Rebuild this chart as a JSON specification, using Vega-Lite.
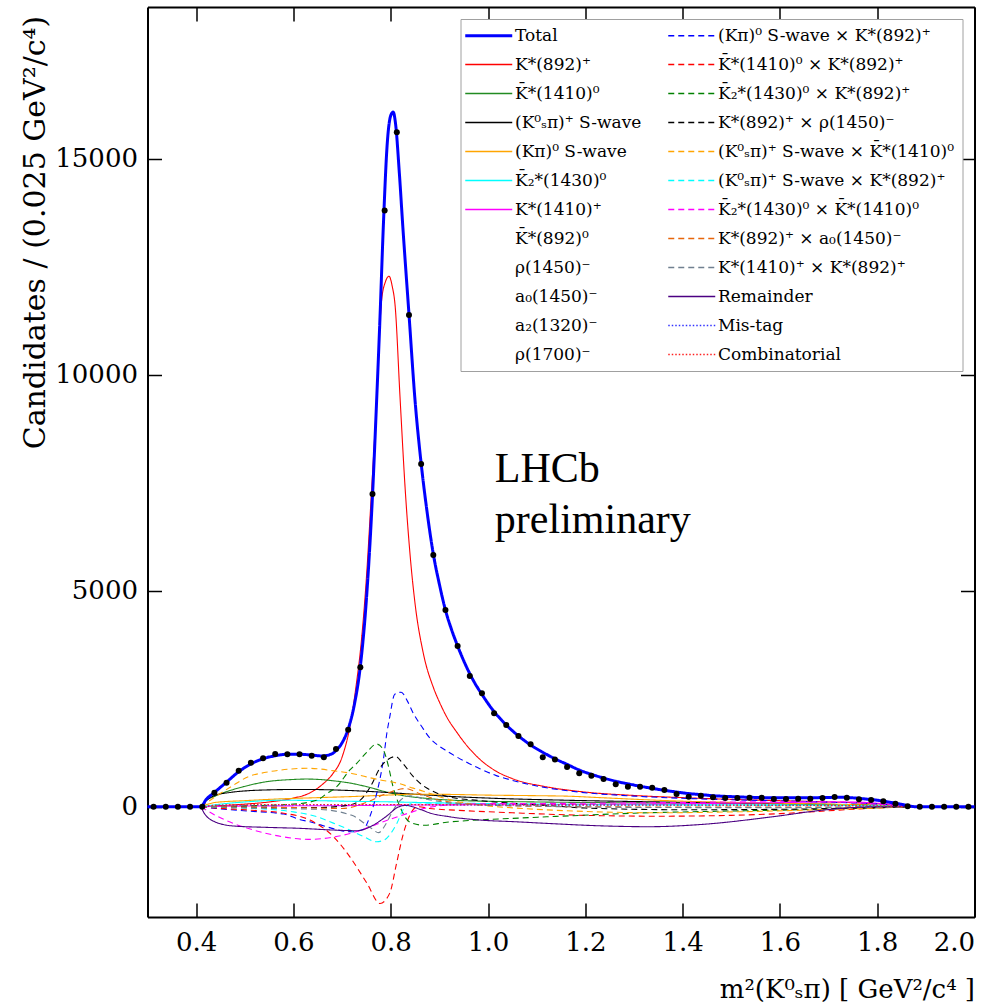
{
  "$schema": "https://vega.github.io/schema/vega-lite/v6.json",
  "width": 827,
  "height": 910,
  "autosize": {"type": "none"},
  "padding": {"left": 147.5, "top": 7, "right": 23.5, "bottom": 91},
  "background": "white",
  "config": {
    "font": "DejaVu Serif",
    "view": {"stroke": null},
    "axis": {
      "domainColor": "black", "domainWidth": 2, "tickColor": "black", "tickWidth": 1.5, "tickSize": -14,
      "labelFont": "DejaVu Serif", "labelFontSize": 26, "labelColor": "black",
      "titleFont": "DejaVu Serif", "titleFontSize": 28, "titleFontWeight": "normal", "titleColor": "black",
      "grid": false, "labelPadding": 26
    },
    "legend": {
      "orient": "top-right", "offset": 12, "columns": 2, "title": null,
      "symbolType": "M-1,0H3", "symbolSize": 552, "labelOffset": 29.5, "rowPadding": 11,
      "labelFont": "DejaVu Serif", "labelFontSize": 17, "labelColor": "black", "labelLimit": 400,
      "strokeColor": "#a0a0a0", "fillColor": "white", "padding": 8, "columnPadding": 24
    }
  },
  "datasets": {
    "fit": [
      {"c":"Total","x":0.3,"y":0},{"c":"Total","x":0.41,"y":0},{"c":"Total","x":0.42,"y":160},{"c":"Total","x":0.4375,"y":330},{"c":"Total","x":0.4625,"y":570},{"c":"Total","x":0.4875,"y":810},{"c":"Total","x":0.5125,"y":990},{"c":"Total","x":0.5375,"y":1110},{"c":"Total","x":0.5625,"y":1180},{"c":"Total","x":0.5875,"y":1215},{"c":"Total","x":0.6125,"y":1215},{"c":"Total","x":0.6375,"y":1195},{"c":"Total","x":0.66,"y":1175},{"c":"Total","x":0.68,"y":1230},{"c":"Total","x":0.6875,"y":1300},{"c":"Total","x":0.7,"y":1480},{"c":"Total","x":0.7125,"y":1800},{"c":"Total","x":0.725,"y":2350},{"c":"Total","x":0.7375,"y":3250},{"c":"Total","x":0.75,"y":4800},{"c":"Total","x":0.7625,"y":7200},{"c":"Total","x":0.771,"y":9400},{"c":"Total","x":0.7775,"y":11200},{"c":"Total","x":0.785,"y":13500},{"c":"Total","x":0.7925,"y":15300},{"c":"Total","x":0.8,"y":16000},{"c":"Total","x":0.805,"y":16080},{"c":"Total","x":0.81,"y":15800},{"c":"Total","x":0.8175,"y":14700},{"c":"Total","x":0.825,"y":13400},{"c":"Total","x":0.8375,"y":11400},{"c":"Total","x":0.85,"y":9400},{"c":"Total","x":0.8625,"y":7950},{"c":"Total","x":0.875,"y":6800},{"c":"Total","x":0.8875,"y":5850},{"c":"Total","x":0.9,"y":5150},{"c":"Total","x":0.9125,"y":4550},{"c":"Total","x":0.925,"y":4100},{"c":"Total","x":0.9375,"y":3720},{"c":"Total","x":0.95,"y":3380},{"c":"Total","x":0.9625,"y":3080},{"c":"Total","x":0.975,"y":2820},{"c":"Total","x":0.9875,"y":2600},{"c":"Total","x":1.0,"y":2390},{"c":"Total","x":1.0125,"y":2200},{"c":"Total","x":1.025,"y":2040},{"c":"Total","x":1.0375,"y":1890},{"c":"Total","x":1.05,"y":1760},{"c":"Total","x":1.0625,"y":1640},{"c":"Total","x":1.075,"y":1530},{"c":"Total","x":1.0875,"y":1430},{"c":"Total","x":1.1125,"y":1260},{"c":"Total","x":1.1375,"y":1110},{"c":"Total","x":1.1625,"y":980},{"c":"Total","x":1.1875,"y":850},{"c":"Total","x":1.2125,"y":750},{"c":"Total","x":1.2375,"y":665},{"c":"Total","x":1.2625,"y":590},{"c":"Total","x":1.2875,"y":530},{"c":"Total","x":1.3125,"y":475},{"c":"Total","x":1.3375,"y":425},{"c":"Total","x":1.3625,"y":380},{"c":"Total","x":1.3875,"y":340},{"c":"Total","x":1.4125,"y":305},{"c":"Total","x":1.4375,"y":280},{"c":"Total","x":1.4625,"y":255},{"c":"Total","x":1.4875,"y":240},{"c":"Total","x":1.5125,"y":228},{"c":"Total","x":1.55,"y":215},{"c":"Total","x":1.6,"y":205},{"c":"Total","x":1.65,"y":205},{"c":"Total","x":1.7,"y":215},{"c":"Total","x":1.725,"y":218},{"c":"Total","x":1.75,"y":205},{"c":"Total","x":1.775,"y":180},{"c":"Total","x":1.8,"y":150},{"c":"Total","x":1.825,"y":105},{"c":"Total","x":1.85,"y":55},{"c":"Total","x":1.87,"y":10},{"c":"Total","x":1.88,"y":0},{"c":"Total","x":2.0,"y":0},

      {"c":"K*(892)⁺","x":0.41,"y":0},{"c":"K*(892)⁺","x":0.45,"y":25},{"c":"K*(892)⁺","x":0.5,"y":60},{"c":"K*(892)⁺","x":0.55,"y":110},{"c":"K*(892)⁺","x":0.6,"y":200},{"c":"K*(892)⁺","x":0.63,"y":300},{"c":"K*(892)⁺","x":0.66,"y":520},{"c":"K*(892)⁺","x":0.68,"y":750},{"c":"K*(892)⁺","x":0.7,"y":1150},{"c":"K*(892)⁺","x":0.716,"y":1850},{"c":"K*(892)⁺","x":0.73,"y":2900},{"c":"K*(892)⁺","x":0.738,"y":3650},{"c":"K*(892)⁺","x":0.75,"y":5300},{"c":"K*(892)⁺","x":0.76,"y":7200},{"c":"K*(892)⁺","x":0.771,"y":9400},{"c":"K*(892)⁺","x":0.781,"y":11700},{"c":"K*(892)⁺","x":0.789,"y":12150},{"c":"K*(892)⁺","x":0.7965,"y":12280},{"c":"K*(892)⁺","x":0.803,"y":12050},{"c":"K*(892)⁺","x":0.809,"y":11600},{"c":"K*(892)⁺","x":0.819,"y":9500},{"c":"K*(892)⁺","x":0.83,"y":7300},{"c":"K*(892)⁺","x":0.84,"y":5800},{"c":"K*(892)⁺","x":0.85,"y":4700},{"c":"K*(892)⁺","x":0.867,"y":3550},{"c":"K*(892)⁺","x":0.888,"y":2750},{"c":"K*(892)⁺","x":0.901,"y":2400},{"c":"K*(892)⁺","x":0.915,"y":2080},{"c":"K*(892)⁺","x":0.936,"y":1720},{"c":"K*(892)⁺","x":0.949,"y":1520},{"c":"K*(892)⁺","x":0.983,"y":1100},{"c":"K*(892)⁺","x":1.017,"y":820},{"c":"K*(892)⁺","x":1.05,"y":650},{"c":"K*(892)⁺","x":1.12,"y":460},{"c":"K*(892)⁺","x":1.19,"y":350},{"c":"K*(892)⁺","x":1.3,"y":260},{"c":"K*(892)⁺","x":1.4,"y":210},{"c":"K*(892)⁺","x":1.5,"y":170},{"c":"K*(892)⁺","x":1.6,"y":140},{"c":"K*(892)⁺","x":1.7,"y":110},{"c":"K*(892)⁺","x":1.8,"y":70},{"c":"K*(892)⁺","x":1.85,"y":35},{"c":"K*(892)⁺","x":1.88,"y":0},

      {"c":"K̄*(1410)⁰","x":0.41,"y":0},{"c":"K̄*(1410)⁰","x":0.416,"y":100},{"c":"K̄*(1410)⁰","x":0.44,"y":250},{"c":"K̄*(1410)⁰","x":0.477,"y":400},{"c":"K̄*(1410)⁰","x":0.51,"y":500},{"c":"K̄*(1410)⁰","x":0.545,"y":580},{"c":"K̄*(1410)⁰","x":0.59,"y":625},{"c":"K̄*(1410)⁰","x":0.627,"y":640},{"c":"K̄*(1410)⁰","x":0.66,"y":625},{"c":"K̄*(1410)⁰","x":0.682,"y":600},{"c":"K̄*(1410)⁰","x":0.72,"y":540},{"c":"K̄*(1410)⁰","x":0.75,"y":465},{"c":"K̄*(1410)⁰","x":0.785,"y":360},{"c":"K̄*(1410)⁰","x":0.819,"y":270},{"c":"K̄*(1410)⁰","x":0.876,"y":190},{"c":"K̄*(1410)⁰","x":0.95,"y":140},{"c":"K̄*(1410)⁰","x":1.1,"y":110},{"c":"K̄*(1410)⁰","x":1.3,"y":90},{"c":"K̄*(1410)⁰","x":1.5,"y":75},{"c":"K̄*(1410)⁰","x":1.7,"y":55},{"c":"K̄*(1410)⁰","x":1.8,"y":35},{"c":"K̄*(1410)⁰","x":1.87,"y":0},

      {"c":"(K⁰ₛπ)⁺ S-wave","x":0.41,"y":0},{"c":"(K⁰ₛπ)⁺ S-wave","x":0.42,"y":130},{"c":"(K⁰ₛπ)⁺ S-wave","x":0.438,"y":260},{"c":"(K⁰ₛπ)⁺ S-wave","x":0.47,"y":330},{"c":"(K⁰ₛπ)⁺ S-wave","x":0.506,"y":370},{"c":"(K⁰ₛπ)⁺ S-wave","x":0.55,"y":390},{"c":"(K⁰ₛπ)⁺ S-wave","x":0.614,"y":400},{"c":"(K⁰ₛπ)⁺ S-wave","x":0.66,"y":395},{"c":"(K⁰ₛπ)⁺ S-wave","x":0.716,"y":375},{"c":"(K⁰ₛπ)⁺ S-wave","x":0.77,"y":345},{"c":"(K⁰ₛπ)⁺ S-wave","x":0.819,"y":310},{"c":"(K⁰ₛπ)⁺ S-wave","x":0.876,"y":270},{"c":"(K⁰ₛπ)⁺ S-wave","x":0.92,"y":240},{"c":"(K⁰ₛπ)⁺ S-wave","x":1.0,"y":200},{"c":"(K⁰ₛπ)⁺ S-wave","x":1.16,"y":150},{"c":"(K⁰ₛπ)⁺ S-wave","x":1.3,"y":120},{"c":"(K⁰ₛπ)⁺ S-wave","x":1.45,"y":95},{"c":"(K⁰ₛπ)⁺ S-wave","x":1.6,"y":70},{"c":"(K⁰ₛπ)⁺ S-wave","x":1.75,"y":40},{"c":"(K⁰ₛπ)⁺ S-wave","x":1.87,"y":0},

      {"c":"(Kπ)⁰ S-wave","x":0.41,"y":0},{"c":"(Kπ)⁰ S-wave","x":0.44,"y":100},{"c":"(Kπ)⁰ S-wave","x":0.5,"y":140},{"c":"(Kπ)⁰ S-wave","x":0.58,"y":185},{"c":"(Kπ)⁰ S-wave","x":0.65,"y":210},{"c":"(Kπ)⁰ S-wave","x":0.72,"y":235},{"c":"(Kπ)⁰ S-wave","x":0.785,"y":265},{"c":"(Kπ)⁰ S-wave","x":0.853,"y":290},{"c":"(Kπ)⁰ S-wave","x":0.92,"y":285},{"c":"(Kπ)⁰ S-wave","x":0.99,"y":270},{"c":"(Kπ)⁰ S-wave","x":1.1,"y":255},{"c":"(Kπ)⁰ S-wave","x":1.16,"y":245},{"c":"(Kπ)⁰ S-wave","x":1.24,"y":205},{"c":"(Kπ)⁰ S-wave","x":1.37,"y":140},{"c":"(Kπ)⁰ S-wave","x":1.5,"y":100},{"c":"(Kπ)⁰ S-wave","x":1.6,"y":80},{"c":"(Kπ)⁰ S-wave","x":1.7,"y":60},{"c":"(Kπ)⁰ S-wave","x":1.8,"y":30},{"c":"(Kπ)⁰ S-wave","x":1.87,"y":0},

      {"c":"K̄₂*(1430)⁰","x":0.41,"y":0},{"c":"K̄₂*(1430)⁰","x":0.45,"y":60},{"c":"K̄₂*(1430)⁰","x":0.5,"y":110},{"c":"K̄₂*(1430)⁰","x":0.58,"y":150},{"c":"K̄₂*(1430)⁰","x":0.65,"y":140},{"c":"K̄₂*(1430)⁰","x":0.72,"y":125},{"c":"K̄₂*(1430)⁰","x":0.785,"y":115},{"c":"K̄₂*(1430)⁰","x":0.85,"y":100},{"c":"K̄₂*(1430)⁰","x":0.95,"y":80},{"c":"K̄₂*(1430)⁰","x":1.1,"y":60},{"c":"K̄₂*(1430)⁰","x":1.3,"y":50},{"c":"K̄₂*(1430)⁰","x":1.5,"y":45},{"c":"K̄₂*(1430)⁰","x":1.7,"y":35},{"c":"K̄₂*(1430)⁰","x":1.87,"y":0},

      {"c":"K*(1410)⁺","x":0.41,"y":0},{"c":"K*(1410)⁺","x":0.5,"y":15},{"c":"K*(1410)⁺","x":0.7,"y":25},{"c":"K*(1410)⁺","x":0.85,"y":40},{"c":"K*(1410)⁺","x":1.0,"y":45},{"c":"K*(1410)⁺","x":1.2,"y":55},{"c":"K*(1410)⁺","x":1.4,"y":70},{"c":"K*(1410)⁺","x":1.6,"y":95},{"c":"K*(1410)⁺","x":1.7,"y":110},{"c":"K*(1410)⁺","x":1.75,"y":110},{"c":"K*(1410)⁺","x":1.8,"y":80},{"c":"K*(1410)⁺","x":1.85,"y":30},{"c":"K*(1410)⁺","x":1.88,"y":0},

      {"c":"(Kπ)⁰ S-wave × K*(892)⁺","x":0.41,"y":0},{"c":"(Kπ)⁰ S-wave × K*(892)⁺","x":0.44,"y":-40},{"c":"(Kπ)⁰ S-wave × K*(892)⁺","x":0.506,"y":-100},{"c":"(Kπ)⁰ S-wave × K*(892)⁺","x":0.58,"y":-170},{"c":"(Kπ)⁰ S-wave × K*(892)⁺","x":0.614,"y":-300},{"c":"(Kπ)⁰ S-wave × K*(892)⁺","x":0.634,"y":-350},{"c":"(Kπ)⁰ S-wave × K*(892)⁺","x":0.67,"y":-470},{"c":"(Kπ)⁰ S-wave × K*(892)⁺","x":0.696,"y":-550},{"c":"(Kπ)⁰ S-wave × K*(892)⁺","x":0.72,"y":-580},{"c":"(Kπ)⁰ S-wave × K*(892)⁺","x":0.744,"y":-520},{"c":"(Kπ)⁰ S-wave × K*(892)⁺","x":0.757,"y":-230},{"c":"(Kπ)⁰ S-wave × K*(892)⁺","x":0.771,"y":300},{"c":"(Kπ)⁰ S-wave × K*(892)⁺","x":0.778,"y":650},{"c":"(Kπ)⁰ S-wave × K*(892)⁺","x":0.785,"y":1100},{"c":"(Kπ)⁰ S-wave × K*(892)⁺","x":0.792,"y":1700},{"c":"(Kπ)⁰ S-wave × K*(892)⁺","x":0.798,"y":2080},{"c":"(Kπ)⁰ S-wave × K*(892)⁺","x":0.808,"y":2600},{"c":"(Kπ)⁰ S-wave × K*(892)⁺","x":0.8215,"y":2650},{"c":"(Kπ)⁰ S-wave × K*(892)⁺","x":0.834,"y":2450},{"c":"(Kπ)⁰ S-wave × K*(892)⁺","x":0.846,"y":2170},{"c":"(Kπ)⁰ S-wave × K*(892)⁺","x":0.864,"y":1850},{"c":"(Kπ)⁰ S-wave × K*(892)⁺","x":0.881,"y":1580},{"c":"(Kπ)⁰ S-wave × K*(892)⁺","x":0.9,"y":1400},{"c":"(Kπ)⁰ S-wave × K*(892)⁺","x":0.915,"y":1290},{"c":"(Kπ)⁰ S-wave × K*(892)⁺","x":0.949,"y":1070},{"c":"(Kπ)⁰ S-wave × K*(892)⁺","x":0.983,"y":880},{"c":"(Kπ)⁰ S-wave × K*(892)⁺","x":1.017,"y":720},{"c":"(Kπ)⁰ S-wave × K*(892)⁺","x":1.05,"y":610},{"c":"(Kπ)⁰ S-wave × K*(892)⁺","x":1.12,"y":440},{"c":"(Kπ)⁰ S-wave × K*(892)⁺","x":1.19,"y":335},{"c":"(Kπ)⁰ S-wave × K*(892)⁺","x":1.3,"y":245},{"c":"(Kπ)⁰ S-wave × K*(892)⁺","x":1.4,"y":195},{"c":"(Kπ)⁰ S-wave × K*(892)⁺","x":1.5,"y":160},{"c":"(Kπ)⁰ S-wave × K*(892)⁺","x":1.6,"y":135},{"c":"(Kπ)⁰ S-wave × K*(892)⁺","x":1.7,"y":105},{"c":"(Kπ)⁰ S-wave × K*(892)⁺","x":1.8,"y":65},{"c":"(Kπ)⁰ S-wave × K*(892)⁺","x":1.85,"y":30},{"c":"(Kπ)⁰ S-wave × K*(892)⁺","x":1.88,"y":0},

      {"c":"K̄*(1410)⁰ × K*(892)⁺","x":0.41,"y":0},{"c":"K̄*(1410)⁰ × K*(892)⁺","x":0.44,"y":-30},{"c":"K̄*(1410)⁰ × K*(892)⁺","x":0.512,"y":-80},{"c":"K̄*(1410)⁰ × K*(892)⁺","x":0.58,"y":-150},{"c":"K̄*(1410)⁰ × K*(892)⁺","x":0.634,"y":-310},{"c":"K̄*(1410)⁰ × K*(892)⁺","x":0.682,"y":-690},{"c":"K̄*(1410)⁰ × K*(892)⁺","x":0.716,"y":-1160},{"c":"K̄*(1410)⁰ × K*(892)⁺","x":0.751,"y":-1770},{"c":"K̄*(1410)⁰ × K*(892)⁺","x":0.778,"y":-2240},{"c":"K̄*(1410)⁰ × K*(892)⁺","x":0.798,"y":-2000},{"c":"K̄*(1410)⁰ × K*(892)⁺","x":0.812,"y":-1310},{"c":"K̄*(1410)⁰ × K*(892)⁺","x":0.826,"y":-620},{"c":"K̄*(1410)⁰ × K*(892)⁺","x":0.84,"y":-180},{"c":"K̄*(1410)⁰ × K*(892)⁺","x":0.855,"y":0},{"c":"K̄*(1410)⁰ × K*(892)⁺","x":0.88,"y":-40},{"c":"K̄*(1410)⁰ × K*(892)⁺","x":0.95,"y":-90},{"c":"K̄*(1410)⁰ × K*(892)⁺","x":1.05,"y":-140},{"c":"K̄*(1410)⁰ × K*(892)⁺","x":1.2,"y":-200},{"c":"K̄*(1410)⁰ × K*(892)⁺","x":1.35,"y":-220},{"c":"K̄*(1410)⁰ × K*(892)⁺","x":1.5,"y":-200},{"c":"K̄*(1410)⁰ × K*(892)⁺","x":1.6,"y":-160},{"c":"K̄*(1410)⁰ × K*(892)⁺","x":1.72,"y":-80},{"c":"K̄*(1410)⁰ × K*(892)⁺","x":1.8,"y":-30},{"c":"K̄*(1410)⁰ × K*(892)⁺","x":1.87,"y":0},

      {"c":"K̄₂*(1430)⁰ × K*(892)⁺","x":0.41,"y":0},{"c":"K̄₂*(1430)⁰ × K*(892)⁺","x":0.5,"y":20},{"c":"K̄₂*(1430)⁰ × K*(892)⁺","x":0.6,"y":60},{"c":"K̄₂*(1430)⁰ × K*(892)⁺","x":0.648,"y":150},{"c":"K̄₂*(1430)⁰ × K*(892)⁺","x":0.668,"y":300},{"c":"K̄₂*(1430)⁰ × K*(892)⁺","x":0.689,"y":463},{"c":"K̄₂*(1430)⁰ × K*(892)⁺","x":0.716,"y":850},{"c":"K̄₂*(1430)⁰ × K*(892)⁺","x":0.73,"y":1004},{"c":"K̄₂*(1430)⁰ × K*(892)⁺","x":0.75,"y":1250},{"c":"K̄₂*(1430)⁰ × K*(892)⁺","x":0.771,"y":1451},{"c":"K̄₂*(1430)⁰ × K*(892)⁺","x":0.785,"y":1312},{"c":"K̄₂*(1430)⁰ × K*(892)⁺","x":0.795,"y":950},{"c":"K̄₂*(1430)⁰ × K*(892)⁺","x":0.805,"y":450},{"c":"K̄₂*(1430)⁰ × K*(892)⁺","x":0.819,"y":0},{"c":"K̄₂*(1430)⁰ × K*(892)⁺","x":0.83,"y":-250},{"c":"K̄₂*(1430)⁰ × K*(892)⁺","x":0.846,"y":-390},{"c":"K̄₂*(1430)⁰ × K*(892)⁺","x":0.87,"y":-430},{"c":"K̄₂*(1430)⁰ × K*(892)⁺","x":0.915,"y":-360},{"c":"K̄₂*(1430)⁰ × K*(892)⁺","x":0.96,"y":-320},{"c":"K̄₂*(1430)⁰ × K*(892)⁺","x":1.05,"y":-270},{"c":"K̄₂*(1430)⁰ × K*(892)⁺","x":1.19,"y":-200},{"c":"K̄₂*(1430)⁰ × K*(892)⁺","x":1.3,"y":-150},{"c":"K̄₂*(1430)⁰ × K*(892)⁺","x":1.45,"y":-110},{"c":"K̄₂*(1430)⁰ × K*(892)⁺","x":1.6,"y":-80},{"c":"K̄₂*(1430)⁰ × K*(892)⁺","x":1.75,"y":-40},{"c":"K̄₂*(1430)⁰ × K*(892)⁺","x":1.87,"y":0},

      {"c":"K*(892)⁺ × ρ(1450)⁻","x":0.41,"y":0},{"c":"K*(892)⁺ × ρ(1450)⁻","x":0.5,"y":-10},{"c":"K*(892)⁺ × ρ(1450)⁻","x":0.65,"y":-20},{"c":"K*(892)⁺ × ρ(1450)⁻","x":0.72,"y":50},{"c":"K*(892)⁺ × ρ(1450)⁻","x":0.744,"y":230},{"c":"K*(892)⁺ × ρ(1450)⁻","x":0.76,"y":500},{"c":"K*(892)⁺ × ρ(1450)⁻","x":0.778,"y":900},{"c":"K*(892)⁺ × ρ(1450)⁻","x":0.795,"y":1100},{"c":"K*(892)⁺ × ρ(1450)⁻","x":0.81,"y":1160},{"c":"K*(892)⁺ × ρ(1450)⁻","x":0.825,"y":1000},{"c":"K*(892)⁺ × ρ(1450)⁻","x":0.846,"y":700},{"c":"K*(892)⁺ × ρ(1450)⁻","x":0.865,"y":500},{"c":"K*(892)⁺ × ρ(1450)⁻","x":0.881,"y":390},{"c":"K*(892)⁺ × ρ(1450)⁻","x":0.915,"y":240},{"c":"K*(892)⁺ × ρ(1450)⁻","x":0.984,"y":140},{"c":"K*(892)⁺ × ρ(1450)⁻","x":1.05,"y":80},{"c":"K*(892)⁺ × ρ(1450)⁻","x":1.12,"y":30},{"c":"K*(892)⁺ × ρ(1450)⁻","x":1.2,"y":-30},{"c":"K*(892)⁺ × ρ(1450)⁻","x":1.4,"y":-70},{"c":"K*(892)⁺ × ρ(1450)⁻","x":1.6,"y":-60},{"c":"K*(892)⁺ × ρ(1450)⁻","x":1.75,"y":-30},{"c":"K*(892)⁺ × ρ(1450)⁻","x":1.87,"y":0},

      {"c":"(K⁰ₛπ)⁺ S-wave × K̄*(1410)⁰","x":0.41,"y":0},{"c":"(K⁰ₛπ)⁺ S-wave × K̄*(1410)⁰","x":0.438,"y":220},{"c":"(K⁰ₛπ)⁺ S-wave × K̄*(1410)⁰","x":0.477,"y":500},{"c":"(K⁰ₛπ)⁺ S-wave × K̄*(1410)⁰","x":0.506,"y":690},{"c":"(K⁰ₛπ)⁺ S-wave × K̄*(1410)⁰","x":0.54,"y":790},{"c":"(K⁰ₛπ)⁺ S-wave × K̄*(1410)⁰","x":0.575,"y":850},{"c":"(K⁰ₛπ)⁺ S-wave × K̄*(1410)⁰","x":0.63,"y":890},{"c":"(K⁰ₛπ)⁺ S-wave × K̄*(1410)⁰","x":0.684,"y":830},{"c":"(K⁰ₛπ)⁺ S-wave × K̄*(1410)⁰","x":0.72,"y":770},{"c":"(K⁰ₛπ)⁺ S-wave × K̄*(1410)⁰","x":0.75,"y":690},{"c":"(K⁰ₛπ)⁺ S-wave × K̄*(1410)⁰","x":0.778,"y":620},{"c":"(K⁰ₛπ)⁺ S-wave × K̄*(1410)⁰","x":0.819,"y":530},{"c":"(K⁰ₛπ)⁺ S-wave × K̄*(1410)⁰","x":0.846,"y":430},{"c":"(K⁰ₛπ)⁺ S-wave × K̄*(1410)⁰","x":0.867,"y":360},{"c":"(K⁰ₛπ)⁺ S-wave × K̄*(1410)⁰","x":0.9,"y":230},{"c":"(K⁰ₛπ)⁺ S-wave × K̄*(1410)⁰","x":0.942,"y":110},{"c":"(K⁰ₛπ)⁺ S-wave × K̄*(1410)⁰","x":1.0,"y":20},{"c":"(K⁰ₛπ)⁺ S-wave × K̄*(1410)⁰","x":1.07,"y":-40},{"c":"(K⁰ₛπ)⁺ S-wave × K̄*(1410)⁰","x":1.2,"y":-110},{"c":"(K⁰ₛπ)⁺ S-wave × K̄*(1410)⁰","x":1.35,"y":-140},{"c":"(K⁰ₛπ)⁺ S-wave × K̄*(1410)⁰","x":1.5,"y":-120},{"c":"(K⁰ₛπ)⁺ S-wave × K̄*(1410)⁰","x":1.65,"y":-80},{"c":"(K⁰ₛπ)⁺ S-wave × K̄*(1410)⁰","x":1.8,"y":-30},{"c":"(K⁰ₛπ)⁺ S-wave × K̄*(1410)⁰","x":1.87,"y":0},

      {"c":"(K⁰ₛπ)⁺ S-wave × K*(892)⁺","x":0.41,"y":0},{"c":"(K⁰ₛπ)⁺ S-wave × K*(892)⁺","x":0.5,"y":-30},{"c":"(K⁰ₛπ)⁺ S-wave × K*(892)⁺","x":0.6,"y":-120},{"c":"(K⁰ₛπ)⁺ S-wave × K*(892)⁺","x":0.648,"y":-230},{"c":"(K⁰ₛπ)⁺ S-wave × K*(892)⁺","x":0.682,"y":-380},{"c":"(K⁰ₛπ)⁺ S-wave × K*(892)⁺","x":0.716,"y":-540},{"c":"(K⁰ₛπ)⁺ S-wave × K*(892)⁺","x":0.744,"y":-690},{"c":"(K⁰ₛπ)⁺ S-wave × K*(892)⁺","x":0.771,"y":-810},{"c":"(K⁰ₛπ)⁺ S-wave × K*(892)⁺","x":0.785,"y":-780},{"c":"(K⁰ₛπ)⁺ S-wave × K*(892)⁺","x":0.798,"y":-650},{"c":"(K⁰ₛπ)⁺ S-wave × K*(892)⁺","x":0.812,"y":-400},{"c":"(K⁰ₛπ)⁺ S-wave × K*(892)⁺","x":0.826,"y":-60},{"c":"(K⁰ₛπ)⁺ S-wave × K*(892)⁺","x":0.84,"y":60},{"c":"(K⁰ₛπ)⁺ S-wave × K*(892)⁺","x":0.853,"y":90},{"c":"(K⁰ₛπ)⁺ S-wave × K*(892)⁺","x":0.9,"y":70},{"c":"(K⁰ₛπ)⁺ S-wave × K*(892)⁺","x":1.0,"y":50},{"c":"(K⁰ₛπ)⁺ S-wave × K*(892)⁺","x":1.3,"y":40},{"c":"(K⁰ₛπ)⁺ S-wave × K*(892)⁺","x":1.6,"y":30},{"c":"(K⁰ₛπ)⁺ S-wave × K*(892)⁺","x":1.8,"y":15},{"c":"(K⁰ₛπ)⁺ S-wave × K*(892)⁺","x":1.87,"y":0},

      {"c":"K̄₂*(1430)⁰ × K̄*(1410)⁰","x":0.41,"y":0},{"c":"K̄₂*(1430)⁰ × K̄*(1410)⁰","x":0.438,"y":-190},{"c":"K̄₂*(1430)⁰ × K̄*(1410)⁰","x":0.476,"y":-384},{"c":"K̄₂*(1430)⁰ × K̄*(1410)⁰","x":0.506,"y":-500},{"c":"K̄₂*(1430)⁰ × K̄*(1410)⁰","x":0.545,"y":-620},{"c":"K̄₂*(1430)⁰ × K̄*(1410)⁰","x":0.575,"y":-690},{"c":"K̄₂*(1430)⁰ × K̄*(1410)⁰","x":0.63,"y":-756},{"c":"K̄₂*(1430)⁰ × K̄*(1410)⁰","x":0.684,"y":-700},{"c":"K̄₂*(1430)⁰ × K̄*(1410)⁰","x":0.716,"y":-620},{"c":"K̄₂*(1430)⁰ × K̄*(1410)⁰","x":0.739,"y":-540},{"c":"K̄₂*(1430)⁰ × K̄*(1410)⁰","x":0.794,"y":-310},{"c":"K̄₂*(1430)⁰ × K̄*(1410)⁰","x":0.835,"y":-154},{"c":"K̄₂*(1430)⁰ × K̄*(1410)⁰","x":0.876,"y":-20},{"c":"K̄₂*(1430)⁰ × K̄*(1410)⁰","x":0.92,"y":40},{"c":"K̄₂*(1430)⁰ × K̄*(1410)⁰","x":1.0,"y":70},{"c":"K̄₂*(1430)⁰ × K̄*(1410)⁰","x":1.2,"y":80},{"c":"K̄₂*(1430)⁰ × K̄*(1410)⁰","x":1.4,"y":100},{"c":"K̄₂*(1430)⁰ × K̄*(1410)⁰","x":1.6,"y":115},{"c":"K̄₂*(1430)⁰ × K̄*(1410)⁰","x":1.72,"y":110},{"c":"K̄₂*(1430)⁰ × K̄*(1410)⁰","x":1.8,"y":60},{"c":"K̄₂*(1430)⁰ × K̄*(1410)⁰","x":1.87,"y":0},

      {"c":"K*(892)⁺ × a₀(1450)⁻","x":0.41,"y":0},{"c":"K*(892)⁺ × a₀(1450)⁻","x":0.6,"y":-20},{"c":"K*(892)⁺ × a₀(1450)⁻","x":0.7,"y":-40},{"c":"K*(892)⁺ × a₀(1450)⁻","x":0.75,"y":100},{"c":"K*(892)⁺ × a₀(1450)⁻","x":0.79,"y":300},{"c":"K*(892)⁺ × a₀(1450)⁻","x":0.83,"y":420},{"c":"K*(892)⁺ × a₀(1450)⁻","x":0.86,"y":300},{"c":"K*(892)⁺ × a₀(1450)⁻","x":0.9,"y":150},{"c":"K*(892)⁺ × a₀(1450)⁻","x":1.0,"y":40},{"c":"K*(892)⁺ × a₀(1450)⁻","x":1.2,"y":0},{"c":"K*(892)⁺ × a₀(1450)⁻","x":1.5,"y":-10},{"c":"K*(892)⁺ × a₀(1450)⁻","x":1.87,"y":0},

      {"c":"K*(1410)⁺ × K*(892)⁺","x":0.41,"y":0},{"c":"K*(1410)⁺ × K*(892)⁺","x":0.5,"y":-30},{"c":"K*(1410)⁺ × K*(892)⁺","x":0.65,"y":-60},{"c":"K*(1410)⁺ × K*(892)⁺","x":0.72,"y":-200},{"c":"K*(1410)⁺ × K*(892)⁺","x":0.76,"y":-500},{"c":"K*(1410)⁺ × K*(892)⁺","x":0.775,"y":-600},{"c":"K*(1410)⁺ × K*(892)⁺","x":0.79,"y":-400},{"c":"K*(1410)⁺ × K*(892)⁺","x":0.805,"y":-80},{"c":"K*(1410)⁺ × K*(892)⁺","x":0.82,"y":150},{"c":"K*(1410)⁺ × K*(892)⁺","x":0.84,"y":250},{"c":"K*(1410)⁺ × K*(892)⁺","x":0.87,"y":180},{"c":"K*(1410)⁺ × K*(892)⁺","x":0.95,"y":60},{"c":"K*(1410)⁺ × K*(892)⁺","x":1.1,"y":10},{"c":"K*(1410)⁺ × K*(892)⁺","x":1.4,"y":-20},{"c":"K*(1410)⁺ × K*(892)⁺","x":1.7,"y":-20},{"c":"K*(1410)⁺ × K*(892)⁺","x":1.87,"y":0},

      {"c":"Remainder","x":0.41,"y":0},{"c":"Remainder","x":0.415,"y":-120},{"c":"Remainder","x":0.438,"y":-347},{"c":"Remainder","x":0.477,"y":-447},{"c":"Remainder","x":0.545,"y":-478},{"c":"Remainder","x":0.614,"y":-501},{"c":"Remainder","x":0.682,"y":-540},{"c":"Remainder","x":0.73,"y":-556},{"c":"Remainder","x":0.758,"y":-463},{"c":"Remainder","x":0.79,"y":-231},{"c":"Remainder","x":0.817,"y":0},{"c":"Remainder","x":0.831,"y":30},{"c":"Remainder","x":0.86,"y":-60},{"c":"Remainder","x":0.882,"y":-150},{"c":"Remainder","x":0.92,"y":-231},{"c":"Remainder","x":0.983,"y":-308},{"c":"Remainder","x":1.06,"y":-350},{"c":"Remainder","x":1.12,"y":-386},{"c":"Remainder","x":1.244,"y":-447},{"c":"Remainder","x":1.33,"y":-463},{"c":"Remainder","x":1.45,"y":-401},{"c":"Remainder","x":1.586,"y":-231},{"c":"Remainder","x":1.69,"y":-77},{"c":"Remainder","x":1.75,"y":-20},{"c":"Remainder","x":1.8,"y":0},{"c":"Remainder","x":1.87,"y":0},

      {"c":"Mis-tag","x":0.41,"y":0},{"c":"Mis-tag","x":0.45,"y":30},{"c":"Mis-tag","x":0.6,"y":40},{"c":"Mis-tag","x":0.8,"y":45},{"c":"Mis-tag","x":1.0,"y":40},{"c":"Mis-tag","x":1.3,"y":35},{"c":"Mis-tag","x":1.6,"y":30},{"c":"Mis-tag","x":1.8,"y":15},{"c":"Mis-tag","x":1.87,"y":0},

      {"c":"Combinatorial","x":0.41,"y":0},{"c":"Combinatorial","x":0.45,"y":40},{"c":"Combinatorial","x":0.6,"y":50},{"c":"Combinatorial","x":0.8,"y":50},{"c":"Combinatorial","x":1.0,"y":45},{"c":"Combinatorial","x":1.3,"y":40},{"c":"Combinatorial","x":1.6,"y":35},{"c":"Combinatorial","x":1.8,"y":20},{"c":"Combinatorial","x":1.87,"y":0}
    ],
    "pts": [
      {"x":0.3125,"y":0},{"x":0.3375,"y":0},{"x":0.3625,"y":0},{"x":0.3875,"y":0},{"x":0.4125,"y":0},{"x":0.4375,"y":324},{"x":0.4625,"y":556},{"x":0.4875,"y":833},{"x":0.5125,"y":1019},{"x":0.5375,"y":1120},{"x":0.5625,"y":1220},{"x":0.5875,"y":1213},{"x":0.6125,"y":1213},{"x":0.6375,"y":1181},{"x":0.6625,"y":1143},{"x":0.6875,"y":1336},{"x":0.7125,"y":1783},{"x":0.7375,"y":3227},{"x":0.7625,"y":7239},{"x":0.7875,"y":13800},{"x":0.8125,"y":15610},{"x":0.8375,"y":11383},{"x":0.8625,"y":7933},{"x":0.8875,"y":5827},{"x":0.9125,"y":4554},{"x":0.9375,"y":3720},{"x":0.9625,"y":3026},{"x":0.9875,"y":2625},{"x":1.0125,"y":2162},{"x":1.0375,"y":1891},{"x":1.0625,"y":1637},{"x":1.0875,"y":1444},{"x":1.1125,"y":1143},{"x":1.1375,"y":1090},{"x":1.1625,"y":920},{"x":1.1875,"y":773},{"x":1.2125,"y":718},{"x":1.2375,"y":641},{"x":1.2625,"y":518},{"x":1.2875,"y":463},{"x":1.3125,"y":463},{"x":1.3375,"y":440},{"x":1.3625,"y":387},{"x":1.3875,"y":294},{"x":1.4125,"y":231},{"x":1.4375,"y":255},{"x":1.4625,"y":218},{"x":1.4875,"y":201},{"x":1.5125,"y":201},{"x":1.5375,"y":208},{"x":1.5625,"y":208},{"x":1.5875,"y":178},{"x":1.6125,"y":178},{"x":1.6375,"y":185},{"x":1.6625,"y":185},{"x":1.6875,"y":201},{"x":1.7125,"y":224},{"x":1.7375,"y":208},{"x":1.7625,"y":170},{"x":1.7875,"y":155},{"x":1.8125,"y":124},{"x":1.8375,"y":70},{"x":1.8625,"y":8},{"x":1.8875,"y":0},{"x":1.9125,"y":0},{"x":1.9375,"y":0},{"x":1.9625,"y":0},{"x":1.9875,"y":0}
    ]
  },
  "resolve": {"axis": {"x": "independent", "y": "independent"}},
  "layer": [
    {
      "data": {"name": "fit"},
      "transform": [{"filter": "datum.c !== 'Total'"}],
      "mark": {"type": "line", "interpolate": "monotone", "strokeWidth": 1.1},
      "encoding": {
        "x": {"field": "x", "type": "quantitative", "scale": {"domain": [0.3, 2.0], "nice": false, "zero": false},
              "axis": {"orient": "bottom", "values": [0.4,0.6,0.8,1.0,1.2,1.4,1.6,1.8,2.0], "format": ".1f",
                       "title": "m²(K⁰ₛπ) [ GeV²/c⁴ ]", "titleFontSize": 26, "titleX": 827, "titleY": 80, "titleAlign": "right", "titleBaseline": "alphabetic", "titleAnchor": null}},
        "y": {"field": "y", "type": "quantitative", "scale": {"domain": [-2553, 18512], "nice": false, "zero": false},
              "axis": {"orient": "left", "values": [0,5000,10000,15000], "format": "d", "labelPadding": 24,
                       "title": "Candidates / (0.025 GeV²/c⁴)", "titleFontSize": 30, "titleX": -112, "titleY": 225, "titleAngle": 270, "titleAlign": "center", "titleBaseline": "middle"}},
        "color": {"field": "c", "type": "nominal",
          "legend": {"encode": {"symbols": {"update": {"strokeWidth": {"signal": "datum.value === 'Total' ? 3 : 1.3"}}}}},
          "scale": {
            "domain": ["Total","K*(892)⁺","K̄*(1410)⁰","(K⁰ₛπ)⁺ S-wave","(Kπ)⁰ S-wave","K̄₂*(1430)⁰","K*(1410)⁺","K̄*(892)⁰","ρ(1450)⁻","a₀(1450)⁻","a₂(1320)⁻","ρ(1700)⁻","(Kπ)⁰ S-wave × K*(892)⁺","K̄*(1410)⁰ × K*(892)⁺","K̄₂*(1430)⁰ × K*(892)⁺","K*(892)⁺ × ρ(1450)⁻","(K⁰ₛπ)⁺ S-wave × K̄*(1410)⁰","(K⁰ₛπ)⁺ S-wave × K*(892)⁺","K̄₂*(1430)⁰ × K̄*(1410)⁰","K*(892)⁺ × a₀(1450)⁻","K*(1410)⁺ × K*(892)⁺","Remainder","Mis-tag","Combinatorial"],
            "range": ["#0000ff","#ff0000","#228b22","#000000","#ffa500","#00ffff","#ff00ff","transparent","transparent","transparent","transparent","transparent","#0000ff","#ff0000","#008000","#000000","#ffa500","#00ffff","#ff00ff","#e8650a","#708090","#4b0082","#3333ff","#ff2020"]
          }},
        "strokeDash": {"field": "c", "type": "nominal",
          "scale": {
            "domain": ["Total","K*(892)⁺","K̄*(1410)⁰","(K⁰ₛπ)⁺ S-wave","(Kπ)⁰ S-wave","K̄₂*(1430)⁰","K*(1410)⁺","K̄*(892)⁰","ρ(1450)⁻","a₀(1450)⁻","a₂(1320)⁻","ρ(1700)⁻","(Kπ)⁰ S-wave × K*(892)⁺","K̄*(1410)⁰ × K*(892)⁺","K̄₂*(1430)⁰ × K*(892)⁺","K*(892)⁺ × ρ(1450)⁻","(K⁰ₛπ)⁺ S-wave × K̄*(1410)⁰","(K⁰ₛπ)⁺ S-wave × K*(892)⁺","K̄₂*(1430)⁰ × K̄*(1410)⁰","K*(892)⁺ × a₀(1450)⁻","K*(1410)⁺ × K*(892)⁺","Remainder","Mis-tag","Combinatorial"],
            "range": [[1,0],[1,0],[1,0],[1,0],[1,0],[1,0],[1,0],[1,0],[1,0],[1,0],[1,0],[1,0],[6,4],[6,4],[6,4],[6,4],[6,4],[6,4],[6,4],[6,4],[6,4],[1,0],[1.5,2],[1.5,2]]
          }}
      }
    },
    {
      "data": {"name": "fit"},
      "transform": [{"filter": "datum.c === 'Total'"}],
      "mark": {"type": "line", "interpolate": "monotone", "strokeWidth": 3},
      "encoding": {
        "x": {"field": "x", "type": "quantitative", "axis": null},
        "y": {"field": "y", "type": "quantitative", "axis": null},
        "color": {"field": "c", "type": "nominal"},
        "strokeDash": {"field": "c", "type": "nominal"}
      }
    },
    {
      "data": {"name": "pts"},
      "mark": {"type": "point", "filled": true, "color": "black", "size": 36, "opacity": 1},
      "encoding": {
        "x": {"field": "x", "type": "quantitative", "axis": {"orient": "top", "values": [0.4,0.6,0.8,1.0,1.2,1.4,1.6,1.8,2.0], "labels": false, "title": null}},
        "y": {"field": "y", "type": "quantitative", "axis": {"orient": "right", "values": [0,5000,10000,15000], "labels": false, "title": null}}
      }
    },
    {
      "data": {"values": [{}]},
      "mark": {"type": "text", "text": ["LHCb", "preliminary"], "font": "serif", "fontSize": 42, "align": "left", "baseline": "alphabetic", "lineHeight": 51, "color": "black"},
      "encoding": {
        "x": {"datum": 1.014, "type": "quantitative", "axis": null},
        "y": {"datum": 7524, "type": "quantitative", "axis": null}
      }
    }
  ]
}
